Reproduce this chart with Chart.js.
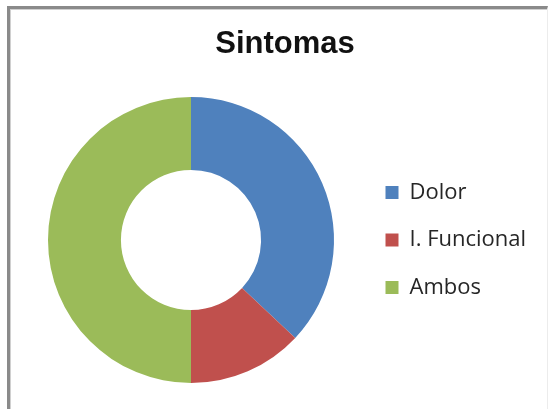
<!DOCTYPE html>
<html>
<head>
<meta charset="utf-8">
<script src="https://cdn.jsdelivr.net/npm/chart.js@4/dist/chart.umd.min.js"></script>
<style>
  html, body { margin: 0; padding: 0; background: #ffffff; }
  #wrap { position: relative; width: 548px; height: 409px; overflow: hidden; }
  #frame {
    position: absolute; left: 7px; top: 6px; right: 0; bottom: -4px;
    border-top: 3px solid #8a8a8a; border-left: 3px solid #8a8a8a;
    border-right: 1px solid #ececec;
    box-shadow: inset 1px 1px 0 #d0d0d0;
  }
  canvas { position: absolute; left: 0; top: 0; }
</style>
</head>
<body>
<div id="wrap">
  <div id="frame"></div>
  <canvas id="chart" width="548" height="409"></canvas>
</div>
<script>
// Symptom breakdown (percent of cases)
const categories = ['Dolor', 'I. Funcional', 'Ambos'];
const values = [37, 13, 50];
const sliceColors = ['#4F81BD', '#C0504D', '#9BBB59'];
const chartTitle = 'Sintomas';

// Keep the right-hand legend column at a fixed width so the title
// stays centred over the whole figure.
const legendColumn = {
  id: 'legendColumn',
  beforeLayout(chart) {
    const lg = chart.legend;
    if (lg && !lg.__fixedWidth) {
      const fit = lg.fit.bind(lg);
      lg.fit = function () {
        fit();
        this.width = Math.max(this.width, 188);
      };
      lg.__fixedWidth = true;
    }
  }
};

new Chart(document.getElementById('chart'), {
  type: 'doughnut',
  data: {
    labels: categories,
    datasets: [{
      data: values,
      backgroundColor: sliceColors,
      borderWidth: 0,
      hoverOffset: 0
    }]
  },
  options: {
    responsive: false,
    animation: false,
    cutout: '49%',
    layout: { padding: { top: 0, bottom: 26, left: 22, right: 0 } },
    plugins: {
      title: {
        display: true,
        text: chartTitle,
        color: '#111111',
        font: { family: "'Liberation Sans', Arial, sans-serif", size: 31, weight: 'bold', lineHeight: 1.2 },
        padding: { top: 26, bottom: 33.8 }
      },
      legend: {
        display: true,
        position: 'right',
        fullSize: false,
        align: 'center',
        labels: {
          boxWidth: 13,
          boxHeight: 13,
          padding: 25.5,
          color: '#262626',
          font: { family: "'Open Sans', sans-serif", size: 22 }
        }
      },
      tooltip: { enabled: false }
    }
  },
  plugins: [legendColumn]
});
</script>
</body>
</html>
